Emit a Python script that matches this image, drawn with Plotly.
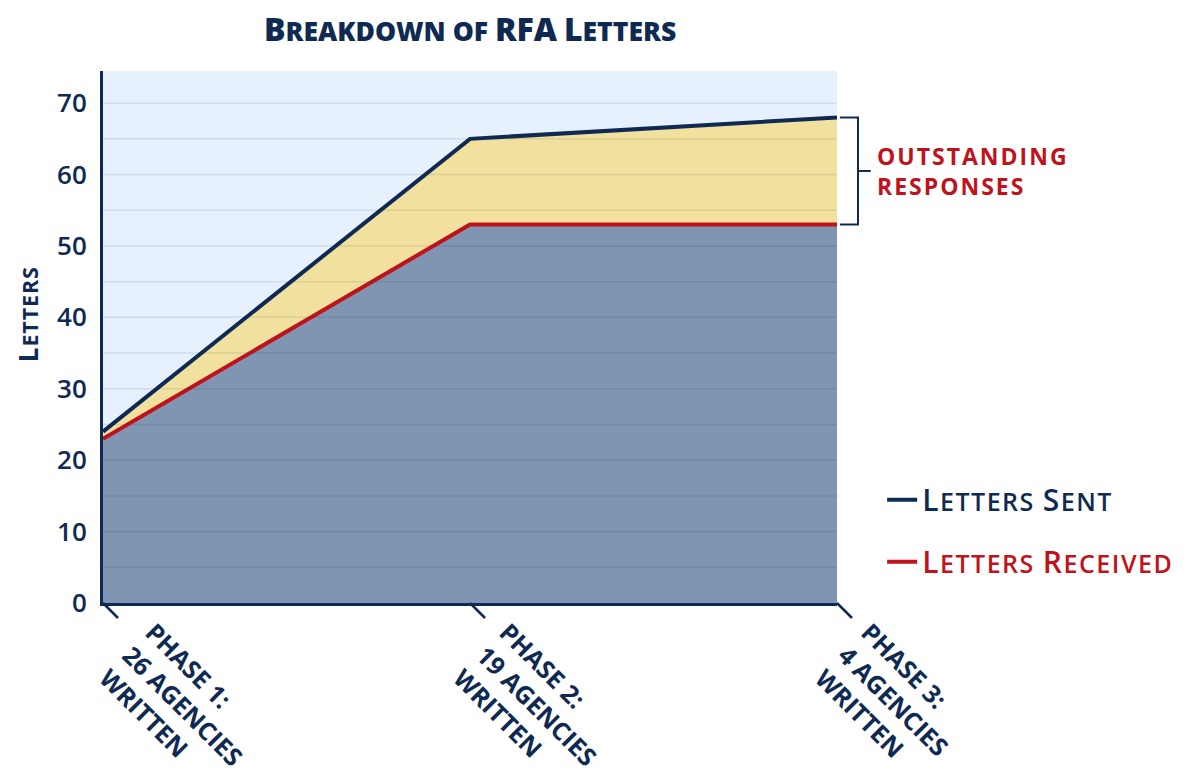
import plotly.graph_objects as go

# ---- data ----
phases = ["Phase 1", "Phase 2", "Phase 3"]
agencies_written = [26, 19, 4]
letters_sent = [24, 65, 68]
letters_received = [23, 53, 53]
y_tick_values = [0, 10, 20, 30, 40, 50, 60, 70]
grid_values = list(range(5, 75, 5))

NAVY = "#0f2a52"
RED = "#c0121a"
FONT = "Open Sans"


def smallcaps(text, big, small, spacing=0.0, caps_words=(), color=None):
    """Emulate small caps with flat (non-nested) spans."""
    col = f"color:{color};" if color else ""
    sp = f"letter-spacing:{spacing}px;" if spacing else ""

    def seg(t, size):
        return f"<span style='{col}{sp}font-size:{size}px'>{t}</span>"

    out = []
    for w in text.split(" "):
        if w in caps_words:
            out.append(seg(w, big))
        elif w.islower():
            out.append(seg(w.upper(), small))
        else:
            out.append(seg(w[0], big) + seg(w[1:].upper(), small))
    return seg(" ", small).join(out)


fig = go.Figure()

# fills (no legend)
fig.add_trace(go.Scatter(
    x=phases, y=letters_received, mode="none",
    fill="tozeroy", fillcolor="#7f95b1", showlegend=False, hoverinfo="skip",
))
fig.add_trace(go.Scatter(
    x=phases, y=letters_sent, mode="none",
    fill="tonexty", fillcolor="#f2e19e", showlegend=False, hoverinfo="skip",
))
# lines
fig.add_trace(go.Scatter(
    x=phases, y=letters_received, mode="lines",
    name=smallcaps("Letters Received", 30, 25, 1.5, color=RED),
    line=dict(color=RED, width=4), legendrank=2, legendgroup="r",
))
fig.add_trace(go.Scatter(
    x=phases, y=letters_sent, mode="lines",
    name=smallcaps("Letters Sent", 30, 25, 1.5),
    line=dict(color=NAVY, width=4), legendrank=1, legendgroup="s",
))

shapes = []
for v in grid_values:
    shapes.append(dict(type="line", xref="paper", yref="y", x0=0, x1=1, y0=v, y1=v,
                       line=dict(color="rgba(15,42,82,0.10)", width=1.5), layer="above"))
n = len(phases)
for i in range(n):
    shapes.append(dict(type="line", xref="paper", yref="paper",
                       xsizemode="pixel", xanchor=i / (n - 1), x0=0, x1=15,
                       ysizemode="pixel", yanchor=0, y0=0, y1=-15,
                       line=dict(color=NAVY, width=2.5)))
top, bot = letters_sent[-1], letters_received[-1]
mid = (top + bot) / 2
bx, bl, br = 1.0286, 1.004, 1.046
shapes.append(dict(type="path", xref="paper", yref="y",
                   path=f"M {bl} {top} L {bx} {top} L {bx} {bot} L {bl} {bot}",
                   line=dict(color=NAVY, width=2)))
shapes.append(dict(type="line", xref="paper", yref="y", x0=bx, x1=br, y0=mid, y1=mid,
                   line=dict(color=NAVY, width=2)))

annotations = []
label_shifts = [-13, -26, -31]
for i, (p, a) in enumerate(zip(phases, agencies_written)):
    annotations.append(dict(
        x=p, xref="x", y=0, yref="paper",
        text=f"{p.upper()}:<br>{a} AGENCIES<br>WRITTEN",
        textangle=45, align="left", xanchor="left", yanchor="top",
        xshift=label_shifts[i], yshift=-9, showarrow=False,
        font=dict(family=FONT, size=25, color=NAVY, weight=700),
    ))
annotations.append(dict(
    x=1.052, xref="paper", y=mid, yref="y",
    text="<span style='letter-spacing:2px'>OUTSTANDING</span><br>"
         "<span style='letter-spacing:2px'>RESPONSES</span>",
    align="left", xanchor="left", yanchor="middle",
    showarrow=False, font=dict(family=FONT, size=23, color=RED, weight=700),
))
annotations.append(dict(
    x=-0.103, xref="paper", y=40.5, yref="y", text=smallcaps("Letters", 26, 21.5, 0.9),
    textangle=-90, showarrow=False, xanchor="center", yanchor="middle",
    font=dict(family=FONT, size=26, color=NAVY, weight=700),
))

fig.update_layout(
    width=1188, height=781,
    margin=dict(l=95, r=359, t=63, b=186),
    paper_bgcolor="white", plot_bgcolor="#e7f1fd",
    title=dict(text=smallcaps("Breakdown of RFA Letters", 32, 26.5, caps_words=("RFA",)),
               x=0.389, xref="container", xanchor="center",
               y=0.972, yanchor="middle",
               font=dict(family=FONT, size=32, color=NAVY, weight=800)),
    xaxis=dict(range=[0, 2], showgrid=False, showticklabels=False, ticks="",
               showline=True, linecolor=NAVY, linewidth=3, zeroline=False),
    yaxis=dict(range=[0, 74.5], tickvals=y_tick_values, showgrid=False, ticks="",
               showline=True, linecolor=NAVY, linewidth=3, zeroline=False,
               ticklabelstandoff=8,
               tickfont=dict(family=FONT, size=26, color=NAVY, weight=600)),
    legend=dict(x=1.0615, xref="paper", y=0.243, yanchor="top", bgcolor="rgba(0,0,0,0)",
                tracegroupgap=20, itemwidth=30,
                font=dict(family=FONT, size=30, color=NAVY, weight=600)),
    shapes=shapes, annotations=annotations,
)

fig.write_html("out.html")
